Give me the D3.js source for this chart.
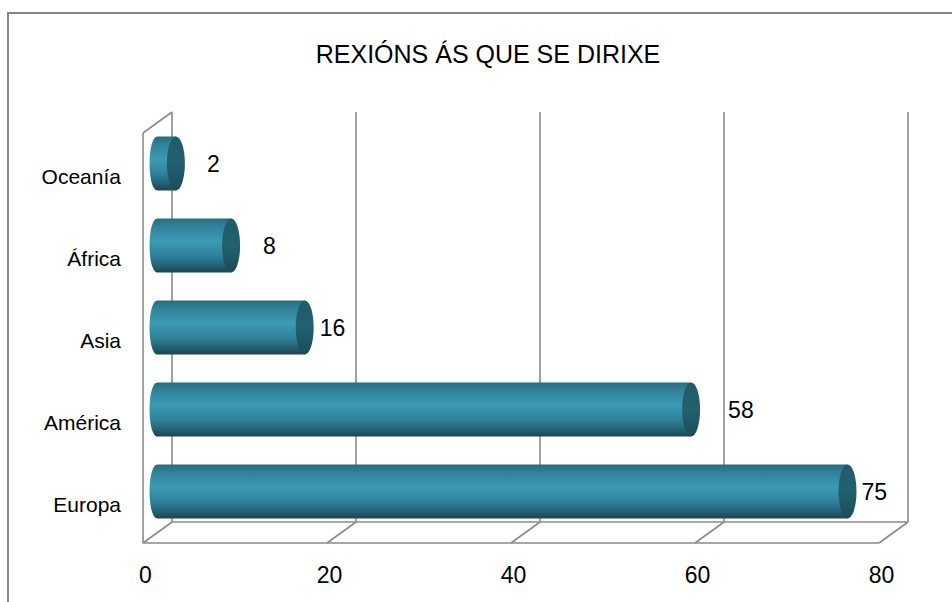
<!DOCTYPE html>
<html>
<head>
<meta charset="utf-8">
<script src="https://cdn.jsdelivr.net/npm/d3@7"></script>
<style>
  html, body { margin: 0; padding: 0; background: #fff; }
  svg { display: block; font-family: "Liberation Sans", Arial, sans-serif; }
</style>
</head>
<body>
<svg id="chart" width="952" height="602"></svg>
<script>
// ---- data ----
const categories = ["Oceanía", "África", "Asia", "América", "Europa"];
const values = [2, 8, 16, 58, 75];
const tickValues = [0, 20, 40, 60, 80];
const title = "REXIÓNS ÁS QUE SE DIRIXE";
// label horizontal offsets (layout only)
const labelOffsets = [31, 32, 15, 37, 14];

// ---- layout ----
const svg = d3.select("#chart");
const W = 952, H = 602;
const DX = 29, DY = -21;           // 3D depth offset
const floorY = 543, topY = 133;
const lineColor = "#8a8a8a";

const x = d3.scaleLinear().domain([0, 80]).range([143, 879]);
const y = d3.scaleBand().domain(categories).range([topY, floorY])
  .paddingInner(0.34).paddingOuter(0.17);

// outer border
svg.append("rect")
  .attr("x", 8).attr("y", 13).attr("width", W + 20).attr("height", H + 20)
  .attr("fill", "#fff").attr("stroke", "#868686").attr("stroke-width", 2);

// title
svg.append("text")
  .attr("x", 488).attr("y", 63)
  .attr("text-anchor", "middle")
  .attr("font-size", 25)
  .attr("fill", "#000")
  .text(title);

// gradients
const defs = svg.append("defs");
const g1 = defs.append("linearGradient").attr("id", "body")
  .attr("x1", 0).attr("y1", 0).attr("x2", 0).attr("y2", 1);
[[0, "#286b7d"], [0.12, "#2f7f96"], [0.42, "#3b9bb5"], [0.7, "#2f8098"], [0.88, "#235f70"], [1, "#1a4552"]]
  .forEach(([o, c]) => g1.append("stop").attr("offset", o).attr("stop-color", c));
const g2 = defs.append("linearGradient").attr("id", "cap")
  .attr("x1", 0).attr("y1", 0).attr("x2", 0).attr("y2", 1);
[[0, "#1f5b6b"], [0.5, "#22616f"], [1, "#1a4c59"]]
  .forEach(([o, c]) => g2.append("stop").attr("offset", o).attr("stop-color", c));

// ---- walls / grid ----
const grid = svg.append("g").attr("stroke", lineColor).attr("stroke-width", 1.6).attr("fill", "none");
// left wall front edge
grid.append("line").attr("x1", x(0)).attr("y1", topY).attr("x2", x(0)).attr("y2", floorY);
grid.append("line").attr("x1", x(0)).attr("y1", topY).attr("x2", x(0) + DX).attr("y2", topY + DY);
// back wall verticals (gridlines)
grid.selectAll(".gl").data(tickValues).join("line").attr("class", "gl")
  .attr("x1", d => x(d) + DX).attr("x2", d => x(d) + DX)
  .attr("y1", topY + DY).attr("y2", floorY + DY);
// floor
grid.append("line").attr("x1", x(0)).attr("y1", floorY).attr("x2", x(80)).attr("y2", floorY);
grid.append("line").attr("x1", x(0) + DX).attr("y1", floorY + DY).attr("x2", x(80) + DX).attr("y2", floorY + DY);
grid.selectAll(".fd").data(tickValues).join("line").attr("class", "fd")
  .attr("x1", d => x(d)).attr("y1", floorY)
  .attr("x2", d => x(d) + DX).attr("y2", floorY + DY);

// ---- bars (cylinders) ----
const bw = y.bandwidth();
const rx = 9, ry = bw / 2;
const bars = svg.append("g");
categories.forEach((c, i) => {
  const v = values[i];
  const cy = y(c) + bw / 2 + DY / 2;
  const x0 = x(0) + DX / 2;
  const x1 = x(v) + DX / 2;
  const top = cy - ry, bot = cy + ry;
  const p = d3.path();
  p.moveTo(x1, top);
  p.lineTo(x0, top);
  // left rounded end
  p.bezierCurveTo(x0 - 8 * 1.33, top, x0 - 8 * 1.33, bot, x0, bot);
  p.lineTo(x1, bot);
  p.closePath();
  bars.append("path").attr("d", p.toString()).attr("fill", "url(#body)");
  bars.append("ellipse")
    .attr("cx", x1).attr("cy", cy).attr("rx", rx).attr("ry", ry)
    .attr("fill", "url(#cap)");
  // value label
  svg.append("text")
    .attr("x", x1 + labelOffsets[i]).attr("y", cy)
    .attr("dy", "0.35em")
    .attr("font-size", 23)
    .attr("fill", "#000")
    .text(v);
});

// ---- axes ----
const xAxis = svg.append("g")
  .attr("transform", `translate(2,${floorY})`)
  .call(d3.axisBottom(x).tickValues(tickValues).tickSize(0).tickPadding(24));
xAxis.select(".domain").remove();
xAxis.selectAll("text").attr("font-size", 23).attr("fill", "#000")
  .attr("font-family", "Liberation Sans, Arial, sans-serif");

const yAxis = svg.append("g")
  .attr("transform", `translate(121,3)`)
  .call(d3.axisLeft(y).tickSize(0).tickPadding(0));
yAxis.select(".domain").remove();
yAxis.selectAll("text").attr("font-size", 21).attr("fill", "#000")
  .attr("font-family", "Liberation Sans, Arial, sans-serif");
</script>
</body>
</html>
